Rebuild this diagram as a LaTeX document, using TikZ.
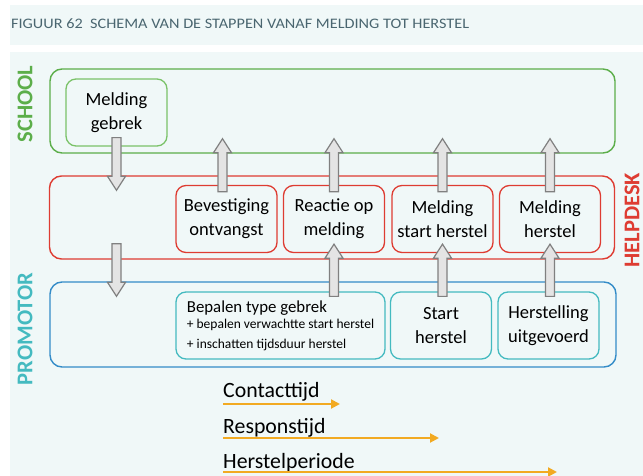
\documentclass[tikz,border=0pt]{standalone}
\usepackage{fontspec}
\setmainfont{Carlito}
\newfontfamily\titlefont[FakeStretch=1.12]{Carlito}
\usetikzlibrary{arrows.meta,calc}

\definecolor{panelbg}{RGB}{240,248,248}
\definecolor{titlegrey}{RGB}{74,102,112}
\definecolor{schoolgreen}{RGB}{92,174,74}
\definecolor{meldgreen}{RGB}{122,194,104}
\definecolor{deskred}{RGB}{222,60,50}
\definecolor{promoblue}{RGB}{52,140,200}
\definecolor{promoteal}{RGB}{68,186,192}
\definecolor{timeorange}{RGB}{242,170,34}
\definecolor{arrowgrey}{RGB}{128,128,128}
\definecolor{arrowfill}{RGB}{228,228,228}

\begin{document}
\begin{tikzpicture}[x=1pt,y=-1pt,
    lane/.style={draw=#1,line width=1.4pt,rounded corners=12pt,
      minimum width=565pt,minimum height=84pt},
    task/.style={draw=#1,line width=1.3pt,rounded corners=10pt,
      minimum width=101pt,minimum height=67pt,align=center,inner sep=2pt,
      font=\fontsize{18.5}{24}\selectfont},
    lanelabel/.style={rotate=90,text=#1,inner sep=0pt,
      font=\fontsize{22.5}{23}\selectfont\bfseries},
    fat/.style={draw=arrowgrey,fill=arrowfill,line width=1.2pt,
      to path={let \p1=(\tikztostart), \p2=(\tikztotarget),
        \p3=($(\p2)!14pt!(\p1)$) in
        (\x1-4.5pt,\y1) -- (\x1-4.5pt,\y3) -- (\x1-9pt,\y3) -- (\x1,\y2)
        -- (\x1+9pt,\y3) -- (\x1+4.5pt,\y3) -- (\x1+4.5pt,\y1) -- cycle}},
    timeline/.style={draw=timeorange,line width=2pt,
      -{Triangle[length=9pt,width=9pt]}},
    timelabel/.style={anchor=base west,inner sep=0pt,
      font=\fontsize{21.8}{24}\selectfont}]
  \useasboundingbox (0,0) rectangle (643,476);
  \fill[panelbg] (10,5) rectangle (643,45);
  \fill[panelbg] (10,52) rectangle (643,476);
  \node[anchor=west,inner sep=0pt,text=titlegrey,font=\titlefont\fontsize{14.5}{16}\selectfont]
    (title) at (11,24) {FIGUUR 62\ \ SCHEMA VAN DE STAPPEN VANAF MELDING TOT HERSTEL};

  % lanes
  \node[lane=schoolgreen] (school) at (332.5,111) {};
  \node[lane=deskred,minimum height=83pt] (helpdesk) at (332,217.5) {};
  \node[lane=promoblue,minimum width=566pt,minimum height=85pt] (promotor) at (333,324.5) {};
  \node[lanelabel=schoolgreen] (schoollabel) at (25,104) {SCHOOL};
  \node[lanelabel=deskred] (desklabel) at (632,220) {HELPDESK};
  \node[lanelabel=promoteal] (promolabel) at (25,329) {PROMOTOR};

  % steps
  \node[task=meldgreen] (melding) at (116.5,112.5) {Melding\\gebrek};
  \node[task=deskred] (bevestiging) at (226.5,219) {Bevestiging\\ontvangst};
  \node[task=deskred] (reactie) at (334,219) {Reactie op\\melding};
  \node[task=deskred] (meldstart) at (442.5,219) {Melding\\start herstel};
  \node[task=deskred] (meldherstel) at (550,219) {Melding\\herstel};
  \node[task=promoteal,minimum width=209pt,align=left,
    font=\fontsize{13.5}{15}\selectfont] (bepalen) at (280.5,325.5)
    {{\fontsize{16.8}{20}\selectfont Bepalen type gebrek}\\[1pt]
     + bepalen verwachtte start herstel\\[5pt]
     + inschatten tijdsduur herstel};
  \node[task=promoteal] (start) at (441,325.5) {Start\\herstel};
  \node[task=promoteal] (uitgevoerd) at (548.5,325.5) {Herstelling\\uitgevoerd};

  % fat arrows
  \draw[fat] ([yshift=9pt]melding.south) to ([yshift=-15pt]melding.south |- helpdesk.north);
  \draw[fat] ([yshift=16pt]melding.south |- helpdesk.south) to ([yshift=-15pt]melding.south |- promotor.north);
  \foreach \task/\dx in {bevestiging/-4,reactie/0,meldstart/0,meldherstel/0}
    \draw[fat] ([xshift=\dx pt,yshift=-7pt]\task.north)
      to ([xshift=\dx pt,yshift=15pt]\task.north |- school.south);
  \foreach \task/\target in {bepalen/reactie,start/meldstart,uitgevoerd/meldherstel}
    \draw[fat] ([yshift=-5pt]\target.north |- \task.north) to ([yshift=9pt]\target.south);

  % time spans
  \node[timelabel] (contact) at (223,397) {Contacttijd};
  \node[timelabel] (respons) at (223,433) {Responstijd};
  \node[timelabel] (periode) at (223,468) {Herstelperiode};
  \coordinate (contactend) at (340,404);
  \coordinate (responsend) at (439,438);
  \coordinate (periodeend) at (557,472);
  \draw[timeline] (contact.base west |- contactend) -- (contactend);
  \draw[timeline] (respons.base west |- responsend) -- (responsend);
  \draw[timeline] (periode.base west |- periodeend) -- (periodeend);
\end{tikzpicture}
\end{document}
